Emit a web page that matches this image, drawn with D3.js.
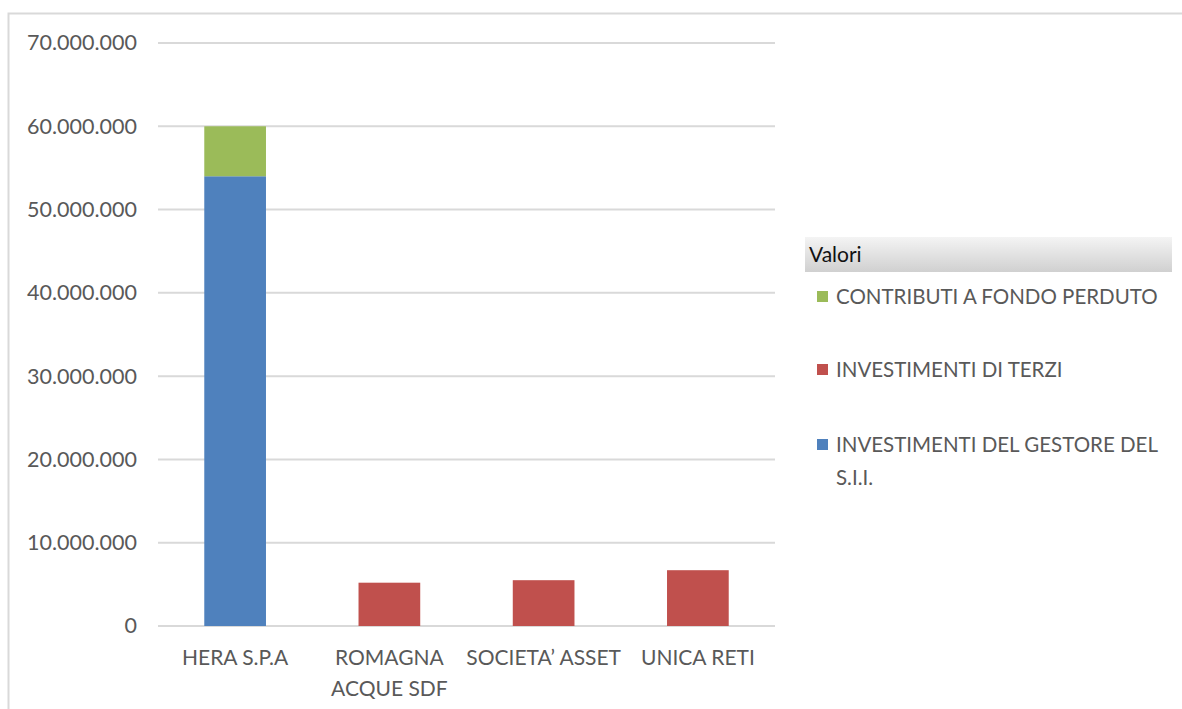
<!DOCTYPE html>
<html>
<head>
<meta charset="utf-8">
<script src="https://cdn.jsdelivr.net/npm/d3@7"></script>
<style>
	body { margin: 0; background: #fff; }
	svg text { font-family: Lato, "Open Sans", sans-serif; }
	.axis-label { fill: #595959; font-size: 21.5px; }
	.grid-line { stroke: #d9d9d9; stroke-width: 2; }
</style>
</head>
<body>
<div id="chart"></div>
<script>
	'use strict';

	var categories = [['HERA S.P.A'], ['ROMAGNA', 'ACQUE SDF'], ['SOCIETA\u2019 ASSET'], ['UNICA RETI']],
		seriesNames = ['INVESTIMENTI DEL GESTORE DEL S.I.I.', 'INVESTIMENTI DI TERZI', 'CONTRIBUTI A FONDO PERDUTO'],
		gestoreValues = [54000000, 0, 0, 0],
		terziValues = [0, 5200000, 5500000, 6700000],
		contributiValues = [6000000, 0, 0, 0],
		yTicks = [0, 10000000, 20000000, 30000000, 40000000, 50000000, 60000000, 70000000],
		seriesColors = ['#4f81bd', '#c0504d', '#9bbb59'];

	var W = 1182, H = 709;
	var margin = { top: 43, left: 158, right: 407, bottom: 83 },
		width = W - margin.left - margin.right,
		height = H - margin.top - margin.bottom;

	var svg = d3.select('#chart').append('svg')
		.attr('width', W)
		.attr('height', H);

	// outer frame
	svg.append('path')
		.attr('d', 'M8.5,' + H + 'V13.5H' + W)
		.attr('fill', 'none')
		.attr('stroke', '#d9d9d9')
		.attr('stroke-width', 2);

	var xScale = d3.scaleBand()
		.domain(categories.map(function (d) { return d.join(' '); }))
		.range([0, width]);

	var yScale = d3.scaleLinear().domain([0, 70000000]).range([height, 0]);

	var g = svg.append('g')
		.attr('transform', 'translate(' + margin.left + ',' + margin.top + ')');

	// GRID
	g.selectAll('.grid-line')
		.data(yTicks)
		.enter().append('line')
		.attr('class', 'grid-line')
		.attr('x1', 0)
		.attr('x2', width)
		.attr('y1', function (d) { return yScale(d); })
		.attr('y2', function (d) { return yScale(d); });

	var fmt = function (v) {
		return d3.format(',')(v).replace(/,/g, '.');
	};

	var yAxis = g.append('g')
		.call(d3.axisLeft(yScale).tickValues(yTicks).tickSize(0).tickPadding(21).tickFormat(fmt));
	yAxis.select('.domain').remove();
	yAxis.selectAll('text').attr('class', 'axis-label').attr('font-size', null).attr('font-family', null);

	// STACKED BARS
	var table = categories.map(function (c, i) {
		return { key: c.join(' '), gestore: gestoreValues[i], terzi: terziValues[i], contributi: contributiValues[i] };
	});
	var stack = d3.stack().keys(['gestore', 'terzi', 'contributi'])(table);
	var barW = xScale.bandwidth() * 0.4;

	g.selectAll('.series')
		.data(stack)
		.enter().append('g')
		.attr('fill', function (d, i) { return seriesColors[i]; })
		.selectAll('rect')
		.data(function (d) { return d.filter(function (p) { return p[1] > p[0]; }); })
		.enter().append('rect')
		.attr('x', function (d) { return xScale(d.data.key) + (xScale.bandwidth() - barW) / 2; })
		.attr('width', barW)
		.attr('y', function (d) { return yScale(d[1]); })
		.attr('height', function (d) { return yScale(d[0]) - yScale(d[1]); });

	// X LABELS
	var xl = g.selectAll('.xlabel')
		.data(categories)
		.enter().append('text')
		.attr('class', 'axis-label')
		.style('font-size', '21px')
		.attr('text-anchor', 'middle')
		.attr('transform', function (d) {
			return 'translate(' + (xScale(d.join(' ')) + xScale.bandwidth() / 2) + ',' + (height + 39) + ')';
		});
	xl.selectAll('tspan')
		.data(function (d) { return d; })
		.enter().append('tspan')
		.attr('x', 0)
		.attr('dy', function (d, i) { return i ? 31 : 0; })
		.text(function (d) { return d; });

	// LEGEND
	var defs = svg.append('defs');
	var grad = defs.append('linearGradient').attr('id', 'hdr').attr('x1', 0).attr('y1', 0).attr('x2', 0).attr('y2', 1);
	grad.append('stop').attr('offset', '0%').attr('stop-color', '#f4f4f4');
	grad.append('stop').attr('offset', '100%').attr('stop-color', '#d0d0d0');

	var legend = svg.append('g').attr('transform', 'translate(805,237)');
	legend.append('rect')
		.attr('width', 367)
		.attr('height', 35)
		.attr('fill', 'url(#hdr)');
	legend.append('text')
		.attr('x', 4)
		.attr('y', 25)
		.attr('font-size', 21)
		.attr('fill', '#111')
		.text('Valori');

	var legendItems = [
		{ lines: [seriesNames[2]], color: seriesColors[2], y: 60 },
		{ lines: [seriesNames[1]], color: seriesColors[1], y: 133 },
		{ lines: ['INVESTIMENTI DEL GESTORE DEL', 'S.I.I.'], color: seriesColors[0], y: 208 }
	];

	var li = legend.selectAll('.legend-item')
		.data(legendItems)
		.enter().append('g')
		.attr('transform', function (d) { return 'translate(0,' + d.y + ')'; });
	li.append('rect')
		.attr('x', 12)
		.attr('y', -6)
		.attr('width', 11)
		.attr('height', 11)
		.attr('fill', function (d) { return d.color; });
	li.append('text')
		.attr('x', 31)
		.attr('y', 7)
		.attr('fill', '#595959')
		.style('font-size', '20.5px')
		.selectAll('tspan')
		.data(function (d) { return d.lines; })
		.enter().append('tspan')
		.attr('x', 31)
		.attr('dy', function (d, i) { return i ? 33 : 0; })
		.text(function (d) { return d; });
</script>
</body>
</html>
